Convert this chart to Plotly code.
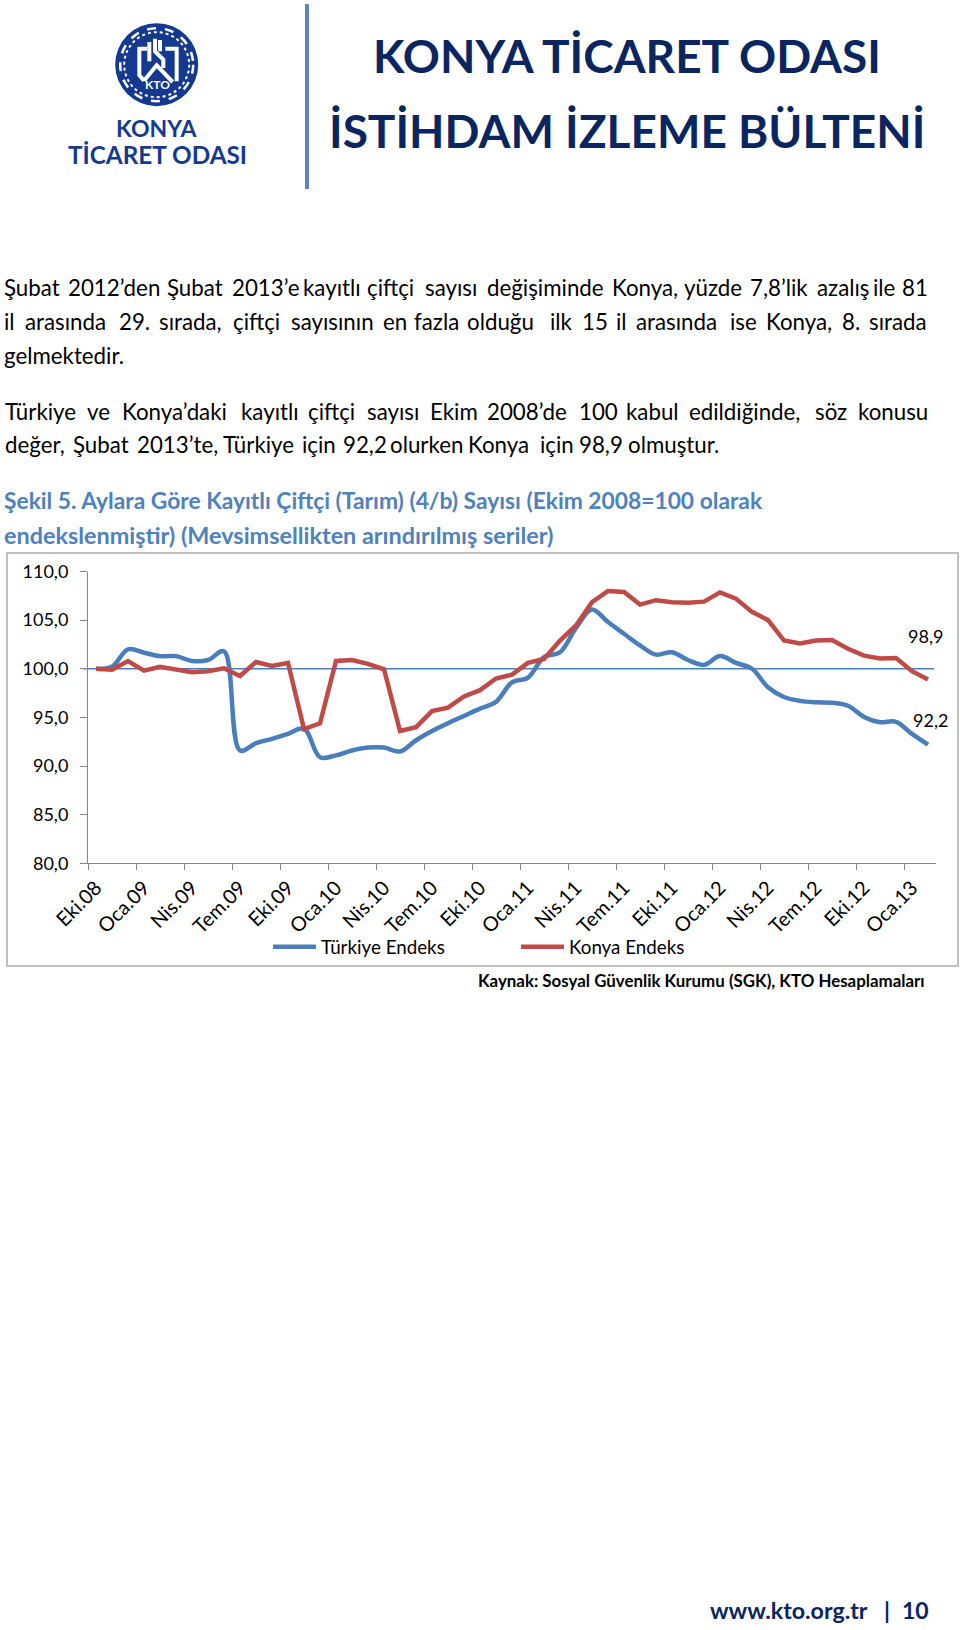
import plotly.graph_objects as go

WIDTH = 960
HEIGHT = 1630
FONT = "Lato"

tick_labels = ["Eki.08", "Oca.09", "Nis.09", "Tem.09", "Eki.09", "Oca.10", "Nis.10", "Tem.10", "Eki.10",
               "Oca.11", "Nis.11", "Tem.11", "Eki.11", "Oca.12", "Nis.12", "Tem.12", "Eki.12", "Oca.13"]
y_ticks = [80, 85, 90, 95, 100, 105, 110]
y_tick_labels = ["80,0", "85,0", "90,0", "95,0", "100,0", "105,0", "110,0"]

turkiye = [100.0, 100.2, 102.0, 101.65, 101.3, 101.3, 100.8, 100.9, 101.8, 91.6, 92.35, 92.8, 93.3,
           93.85, 90.9, 91.1, 91.6, 91.9, 91.9, 91.5, 92.65, 93.6, 94.4, 95.15, 95.9, 96.6, 98.6,
           99.1, 101.2, 101.7, 104.2, 106.1, 104.8, 103.6, 102.4, 101.45, 101.7, 100.9, 100.4,
           101.3, 100.6, 100.0, 98.1, 97.1, 96.7, 96.55, 96.5, 96.2, 95.05, 94.5, 94.55, 93.3, 92.2]
konya = [100.0, 99.9, 100.8, 99.8, 100.2, 99.9, 99.65, 99.75, 100.05, 99.25, 100.7, 100.3, 100.6,
         93.8, 94.4, 100.8, 100.9, 100.5, 99.95, 93.6, 94.0, 95.65, 96.0, 97.15, 97.8, 99.0, 99.4,
         100.6, 101.0, 102.9, 104.45, 106.85, 108.0, 107.9, 106.6, 107.05, 106.85, 106.8, 106.9,
         107.85, 107.2, 105.85, 105.0, 102.9, 102.6, 102.9, 102.95, 102.05, 101.35, 101.05, 101.1,
         99.75, 98.9]

months = list(range(len(turkiye)))
label_pos = months[::3][:len(tick_labels)]
tick_pos = [m - 0.5 for m in label_pos]

NAVY = "#0b2560"
LOGO_BLUE = "#14398f"
HEADING = "#4f81bd"
BODY_SIZE = 22.3


def px(x):
    return x / WIDTH


def py(y):
    return 1 - y / HEIGHT


def text(fig, x, y, s, size, color="black", bold=False, anchor="left"):
    if bold:
        s = "<b>" + s + "</b>"
    fig.add_annotation(x=px(x), y=py(y), xref="paper", yref="paper", text=s, showarrow=False,
                       xanchor=anchor, yanchor="middle", borderpad=0, borderwidth=0,
                       font=dict(family=FONT, size=size, color=color))


def words(fig, y, items, size=BODY_SIZE):
    # justified lines: every word sits at its own left edge
    for x, w in items:
        text(fig, x, y, w, size)


def circle(fig, cx, cy, r, fill=None, line=None, lw=0, dash="solid"):
    fig.add_shape(type="circle", xref="paper", yref="paper",
                  x0=px(cx - r), x1=px(cx + r), y0=py(cy + r), y1=py(cy - r),
                  fillcolor=fill, line=dict(color=line, width=lw, dash=dash), layer="above")


def stroke(fig, pts, width=4, color="white"):
    # points are in the logo's own zoomed grid
    path = ""
    for i, (x, y) in enumerate(pts):
        path += ("M" if i == 0 else "L") + f"{px(110 + x / 3):.5f},{py(18 + y / 3):.5f} "
    fig.add_shape(type="path", xref="paper", yref="paper", path=path,
                  line=dict(color=color, width=width), layer="above")


fig = go.Figure()

fig.add_trace(go.Scatter(x=months, y=turkiye, mode="lines", name="Türkiye Endeks",
                         line=dict(color="#4a7ebb", width=4.5, shape="spline", smoothing=1.0)))
fig.add_trace(go.Scatter(x=months, y=konya, mode="lines", name="Konya Endeks",
                         line=dict(color="#be4b48", width=4.5)))

# thin base line at 100
fig.add_shape(type="line", xref="paper", yref="y", x0=px(83), x1=px(934), y0=100, y1=100,
              line=dict(color="#4a7ebb", width=1.5), layer="below")

# chart frame
fig.add_shape(type="rect", xref="paper", yref="paper", x0=px(7), x1=px(958), y0=py(966), y1=py(553),
              line=dict(color="#bfbfbf", width=2), layer="below")

# data labels on the last points
fig.add_annotation(x=months[-1], y=konya[-1], text="98,9", showarrow=False, xshift=-3, yshift=43,
                   font=dict(family=FONT, size=18, color="black"))
fig.add_annotation(x=months[-1], y=turkiye[-1], text="92,2", showarrow=False, xshift=2, yshift=25,
                   font=dict(family=FONT, size=18, color="black"))

# header
fig.add_shape(type="rect", xref="paper", yref="paper", x0=px(305), x1=px(309), y0=py(189), y1=py(4),
              fillcolor="#5b87bd", line=dict(width=0))
text(fig, 627, 55, "KONYA TİCARET ODASI", 46, NAVY, True, "center")
text(fig, 627, 131, "İSTİHDAM İZLEME BÜLTENİ", 46, NAVY, True, "center")
text(fig, 156, 128, "KONYA", 23, LOGO_BLUE, True, "center")
text(fig, 157, 154, "TİCARET ODASI", 24.3, LOGO_BLUE, True, "center")

# logo
circle(fig, 156.7, 64.7, 41.5, fill=LOGO_BLUE)
circle(fig, 156.7, 64.7, 36.5, line="white", lw=2.5, dash="dash")
circle(fig, 156.7, 64.7, 32.5, line="white", lw=2, dash="dot")
stroke(fig, [(112, 92), (88, 92), (88, 172), (102, 188)])
stroke(fig, [(118, 72), (118, 130)])
stroke(fig, [(135, 62), (135, 100), (160, 125), (160, 150)])
stroke(fig, [(150, 66), (150, 100)])
stroke(fig, [(166, 92), (200, 92), (200, 190)])
stroke(fig, [(102, 188), (140, 142), (188, 192)])
text(fig, 157, 84, "KTO", 12, "white", True, "center")

# body text
words(fig, 288, [(4, "Şubat"), (68, "2012’den"), (167, "Şubat"), (232, "2013’e"), (303, "kayıtlı"),
                 (367, "çiftçi"), (425, "sayısı"), (487, "değişiminde"), (612, "Konya,"),
                 (684, "yüzde"), (750, "7,8’lik"), (817, "azalış"), (873, "ile"), (902, "81")])
words(fig, 322, [(4, "il"), (25, "arasında"), (119, "29."), (159, "sırada,"), (233, "çiftçi"),
                 (291, "sayısının"), (383, "en"), (414, "fazla"), (467, "olduğu"), (550, "ilk"),
                 (582, "15"), (616, "il"), (636, "arasında"), (730, "ise"), (766, "Konya,"),
                 (842, "8."), (869, "sırada")])
text(fig, 4, 356, "gelmektedir.", BODY_SIZE)
words(fig, 411, [(5, "Türkiye"), (87, "ve"), (122, "Konya’daki"), (241, "kayıtlı"), (308, "çiftçi"),
                 (367, "sayısı"), (430, "Ekim"), (487, "2008’de"), (579, "100"), (626, "kabul"),
                 (689, "edildiğinde,"), (815, "söz"), (858, "konusu")])
words(fig, 445, [(5, "değer,"), (73, "Şubat"), (137, "2013’te,"), (223, "Türkiye"), (302, "için"),
                 (343, "92,2"), (390, "olurken"), (468, "Konya"), (540, "için"), (579, "98,9"),
                 (628, "olmuştur.")])

text(fig, 4, 500, "Şekil 5. Aylara Göre Kayıtlı Çiftçi (Tarım) (4/b) Sayısı (Ekim 2008=100 olarak", 22.8, HEADING, True)
text(fig, 4, 535, "endekslenmiştir) (Mevsimsellikten arındırılmış seriler)", 23.4, HEADING, True)

text(fig, 925, 980, "Kaynak: Sosyal Güvenlik Kurumu (SGK), KTO Hesaplamaları", 16.9, "black", True, "right")

# footer
text(fig, 710, 1610, "www.kto.org.tr", 23.2, NAVY, True)
text(fig, 887, 1610, "|", 23, NAVY, True, "center")
text(fig, 929, 1610, "10", 23, NAVY, True, "right")

fig.update_layout(
    width=WIDTH, height=HEIGHT, margin=dict(l=0, r=0, t=0, b=0, autoexpand=False),
    paper_bgcolor="white", plot_bgcolor="white",
    font=dict(family=FONT, size=18, color="black"),
    showlegend=True,
    legend=dict(orientation="h", x=px(268), y=py(947), xanchor="left", yanchor="middle",
                itemwidth=43, entrywidth=190, entrywidthmode="pixels", font=dict(family=FONT, size=18.8),
                bgcolor="rgba(0,0,0,0)"),
)
fig.update_xaxes(domain=[px(88), px(936)], range=[-0.5, 52.5], tickvals=label_pos, ticktext=tick_labels,
                 tickangle=-45, ticks="", showgrid=False, zeroline=False, showline=True, automargin=False,
                 linecolor="#868686", linewidth=1, tickfont=dict(family=FONT, size=20), ticklabelstandoff=4,
                 minor=dict(tickmode="array", tickvals=tick_pos, ticks="outside", ticklen=6,
                            tickcolor="#868686", showgrid=False))
fig.update_yaxes(domain=[py(863.3), py(571.5)], range=[80, 110], tickvals=y_ticks, ticktext=y_tick_labels,
                 ticks="outside", ticklen=7, tickcolor="#868686", showgrid=False, zeroline=False, automargin=False,
                 showline=True, linecolor="#868686", linewidth=1, tickfont=dict(family=FONT, size=18),
                 ticklabelstandoff=8)

fig.write_html("out.html", post_script="document.body.style.margin='0';", config={"displayModeBar": False})
